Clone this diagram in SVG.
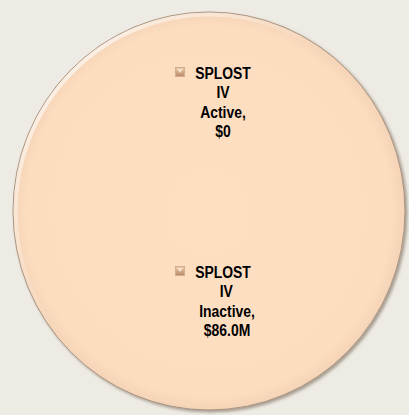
<svg xmlns="http://www.w3.org/2000/svg" width="409" height="415" viewBox="0 0 409 415">
<defs>
<radialGradient id="fill" cx="50%" cy="50%" r="50%">
<stop offset="0" stop-color="#FEDFC2"/>
<stop offset="0.93" stop-color="#FDDDC0"/>
<stop offset="1" stop-color="#F4D3B6"/>
</radialGradient>
<linearGradient id="hl" x1="0" y1="0" x2="1" y2="1">
<stop offset="0" stop-color="#FFFFFF" stop-opacity="0.9"/>
<stop offset="0.45" stop-color="#FFFFFF" stop-opacity="0"/>
</linearGradient>
<linearGradient id="bul" x1="0" y1="0" x2="0" y2="1">
<stop offset="0" stop-color="#ECCBAA"/>
<stop offset="1" stop-color="#B8896A"/>
</linearGradient>
<filter id="sh" x="-10%" y="-10%" width="120%" height="120%">
<feGaussianBlur in="SourceAlpha" stdDeviation="1.5"/>
<feOffset dx="1.5" dy="2" result="b"/>
<feFlood flood-color="#7A6A5C" flood-opacity="0.6"/>
<feComposite in2="b" operator="in"/>
<feMerge><feMergeNode/><feMergeNode in="SourceGraphic"/></feMerge>
</filter>
</defs>
<style>
.t{font-family:"Liberation Sans",Arial,sans-serif;font-weight:bold;font-size:17px;fill:#000;text-anchor:middle}
</style>
<rect width="409" height="415" fill="#EDEBE3"/>
<g id="pie">
<ellipse cx="209" cy="211" rx="196" ry="199" fill="url(#fill)" stroke="#A89482" stroke-width="1" filter="url(#sh)"/>
<ellipse cx="209" cy="211" rx="193.5" ry="196.5" fill="none" stroke="url(#hl)" stroke-width="4"/>
</g>
<g id="label-active">
<rect x="175.5" y="67.5" width="9" height="9" fill="url(#bul)" stroke="#D2AE8E" stroke-width="1"/>
<path d="M177 69 L183 69 L180 73 Z" fill="#F6E2CC"/>
<g transform="translate(223,0) scale(0.82,1)">
<text class="t" x="0" y="79">SPLOST</text>
<text class="t" x="0" y="98">IV</text>
<text class="t" x="0" y="118">Active,</text>
<text class="t" x="0" y="137">$0</text>
</g>
</g>
<g id="label-inactive">
<rect x="175.5" y="266.5" width="9" height="9" fill="url(#bul)" stroke="#D2AE8E" stroke-width="1"/>
<path d="M177 268 L183 268 L180 272 Z" fill="#F6E2CC"/>
<g transform="translate(223,0) scale(0.82,1)">
<text class="t" x="0" y="278">SPLOST</text>
<text class="t" x="4" y="297">IV</text>
<text class="t" x="5" y="317">Inactive,</text>
<text class="t" x="5" y="336">$86.0M</text>
</g>
</g>
<g id="connectors"/>
</svg>
